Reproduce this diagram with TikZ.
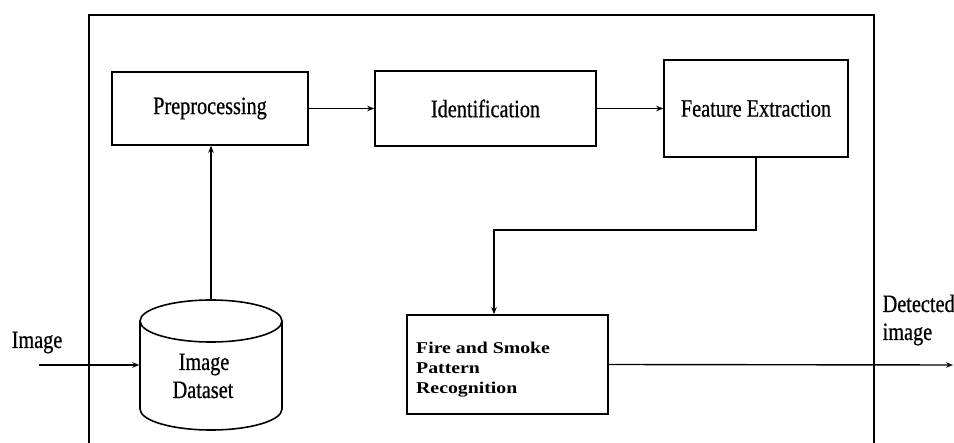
\documentclass[tikz,border=0pt]{standalone}
\usepackage{fontspec}
\setmainfont{Liberation Serif}
\newfontfamily\condfont[FakeStretch=0.81,FakeBold=0.6]{Liberation Serif}
\newfontfamily\widefont[FakeStretch=1.2]{Liberation Serif}
\usetikzlibrary{arrows.meta}
\begin{document}
\begin{tikzpicture}[x=1pt,y=-1pt,line width=1.4pt,
  box/.style={draw,line width=1.6pt,inner sep=0pt,font=\condfont\fontsize{25}{28}\selectfont},
  lbl/.style={inner sep=0pt,font=\condfont\fontsize{25}{28}\selectfont},
  firelbl/.style={inner sep=0pt,anchor=base west,font=\widefont\bfseries\fontsize{16.5}{20}\selectfont},
  arr/.style={-{Stealth[length=7pt,width=5.5pt]}}]
\useasboundingbox (0,0) rectangle (954,443);
% outer frame (open at the bottom)
\draw (89,443) -- (89,15) -- (874,15) -- (874,443);
% process boxes
\node[box,minimum width=196,minimum height=73] (pre) at (210,108.5) {Preprocessing};
\node[box,minimum width=221,minimum height=75] (ide) at (485.5,108.5) {Identification};
\node[box,minimum width=184,minimum height=97] (fea) at (756,108.5) {Feature Extraction};
\node[box,minimum width=201,minimum height=99] (fire) at (507.5,364.5) {};
\node[firelbl] (fire1) at (415.5,354) {Fire and Smoke};
\node[firelbl] (fire2) at (415.5,374) {Pattern};
\node[firelbl] (fire3) at (415.5,394) {Recognition};
% database cylinder
\node[minimum width=142,minimum height=130,inner sep=0pt] (db) at (211,365) {};
\draw[line width=1.6pt] (140,321) -- (140,409) arc[start angle=180,end angle=0,x radius=71,y radius=21] -- (282,321);
\draw[line width=1.6pt] (211,321) ellipse[x radius=71,y radius=21];
\node[lbl,anchor=base] (db1) at (204,370) {Image};
\node[lbl,anchor=base] (db2) at (203,398) {Dataset};
% outside labels
\node[lbl,anchor=base] (inlbl) at (37,348) {Image};
\node[lbl,anchor=base west] (out1) at (882,312) {Detected};
\node[lbl,anchor=base west] (out2) at (882,340) {image};
% connectors
\coordinate (imgin) at (39,365);
\coordinate (bend) at (494,230);
\coordinate (out) at (953,365);
\draw[arr] (imgin) -- (db.west);
\draw[arr] (db.north) -- (db.north |- pre.south);
\draw[arr] (pre) -- (ide);
\draw[arr] (ide) -- (fea);
\draw[arr] (fea.south) |- (bend) -- (bend |- fire.north);
\draw[arr] (fire.east) -- (out);
\end{tikzpicture}
\end{document}
